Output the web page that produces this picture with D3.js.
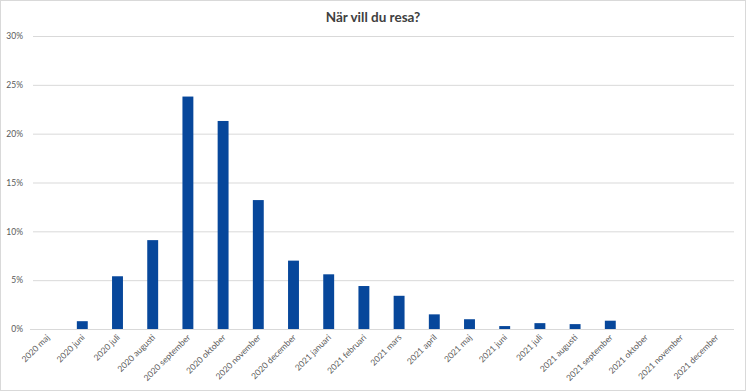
<!DOCTYPE html>
<html><head><meta charset="utf-8">
<script src="https://cdn.jsdelivr.net/npm/d3@7"></script>
<style>
html,body{margin:0;padding:0;background:#fff;}
svg{display:block;}
</style></head>
<body>
<script>
const categories = ["2020 maj","2020 juni","2020 juli","2020 augusti","2020 september","2020 oktober","2020 november","2020 december","2021 januari","2021 februari","2021 mars","2021 april","2021 maj","2021 juni","2021 juli","2021 augusti","2021 september","2021 oktober","2021 november","2021 december"];
const values = [0, 0.8, 5.4, 9.1, 23.8, 21.3, 13.2, 7.0, 5.6, 4.4, 3.4, 1.5, 1.0, 0.3, 0.6, 0.5, 0.85, 0, 0, 0];
const yTicks = [0, 5, 10, 15, 20, 25, 30];
const title = "När vill du resa?";

const W = 746, H = 392;
const font = "Lato, 'Open Sans', sans-serif";
const svg = d3.select("body").append("svg").attr("width", W).attr("height", H);
svg.append("rect").attr("x",0.5).attr("y",0.5).attr("width",W-1).attr("height",H-2)
  .attr("fill","#fff").attr("stroke","#d9d9d9");

const x = d3.scaleBand().domain(categories).range([29.5, 733.5]).paddingInner(0.69).paddingOuter(0.345);
const y = d3.scaleLinear().domain([0, 30]).range([329, 36]);

svg.append("text").attr("x", 373).attr("y", 22).attr("text-anchor","middle")
  .attr("font-family", font).attr("font-weight","bold").attr("font-size", 13.5)
  .attr("fill","#404040").text(title);

const gy = svg.append("g").attr("transform","translate(33,0)")
  .call(d3.axisLeft(y).tickValues(yTicks).tickSize(-(734-33)).tickPadding(10).tickFormat(d => d + "%"));
gy.select(".domain").remove();
gy.selectAll(".tick line").attr("stroke","#d9d9d9");
gy.selectAll(".tick text").attr("font-family", font).attr("font-size", 8.5).attr("fill","#595959");

svg.append("g").selectAll("rect").data(values).join("rect")
  .attr("x", (d,i) => x(categories[i]))
  .attr("width", x.bandwidth())
  .attr("y", d => y(d))
  .attr("height", d => y(0) - y(d))
  .attr("fill", "#07479b");

const gx = svg.append("g").attr("transform","translate(0,329)")
  .call(d3.axisBottom(x).tickSize(0).tickPadding(0));
gx.select(".domain").attr("stroke","#d9d9d9");
gx.selectAll(".tick text")
  .attr("font-family", font).attr("font-size", 8.5).attr("fill","#595959")
  .attr("text-anchor","end").attr("dy", null).attr("y", 0)
  .attr("transform","translate(3,9) rotate(-45)");
</script>
</body></html>
